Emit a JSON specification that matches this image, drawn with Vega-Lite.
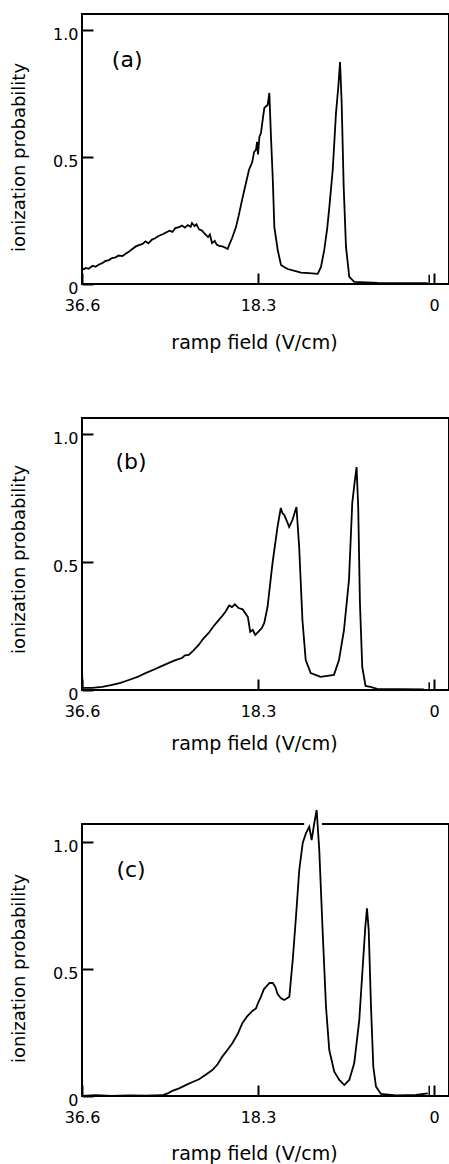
{
  "$schema": "https://vega.github.io/schema/vega-lite/v6.json",
  "background": "white",
  "padding": {"left": 9, "top": 13, "right": 0, "bottom": 0},
  "spacing": 134,
  "bounds": "flush",
  "datasets": {
    "a": [
      {"field": 36.6, "prob": 0.17}, {"field": 36.58, "prob": 0.06}, {"field": 36.4, "prob": 0.058}, {"field": 36.215, "prob": 0.063},
      {"field": 35.9, "prob": 0.06}, {"field": 35.5, "prob": 0.072}, {"field": 35.2, "prob": 0.068}, {"field": 34.83, "prob": 0.077},
      {"field": 34.5, "prob": 0.082}, {"field": 34.2, "prob": 0.09}, {"field": 33.8, "prob": 0.094}, {"field": 33.48, "prob": 0.102},
      {"field": 33.1, "prob": 0.105}, {"field": 32.8, "prob": 0.112}, {"field": 32.4, "prob": 0.11}, {"field": 32.025, "prob": 0.12},
      {"field": 31.7, "prob": 0.128}, {"field": 31.4, "prob": 0.137}, {"field": 31.0, "prob": 0.148}, {"field": 30.67, "prob": 0.153},
      {"field": 30.3, "prob": 0.158}, {"field": 30.0, "prob": 0.168}, {"field": 29.7, "prob": 0.16}, {"field": 29.32, "prob": 0.175},
      {"field": 29.0, "prob": 0.18}, {"field": 28.6, "prob": 0.19}, {"field": 28.2, "prob": 0.196}, {"field": 27.87, "prob": 0.203},
      {"field": 27.5, "prob": 0.21}, {"field": 27.2, "prob": 0.205}, {"field": 26.9, "prob": 0.22}, {"field": 26.51, "prob": 0.224},
      {"field": 26.2, "prob": 0.23}, {"field": 25.9, "prob": 0.222}, {"field": 25.6, "prob": 0.232}, {"field": 25.3, "prob": 0.225},
      {"field": 25.16, "prob": 0.24}, {"field": 24.9, "prob": 0.228}, {"field": 24.7, "prob": 0.235}, {"field": 24.43, "prob": 0.215},
      {"field": 24.1, "prob": 0.21}, {"field": 23.9, "prob": 0.2}, {"field": 23.71, "prob": 0.193}, {"field": 23.5, "prob": 0.185},
      {"field": 23.3, "prob": 0.195}, {"field": 23.08, "prob": 0.161}, {"field": 22.8, "prob": 0.17}, {"field": 22.6, "prob": 0.155},
      {"field": 22.35, "prob": 0.15}, {"field": 22.0, "prob": 0.148}, {"field": 21.63, "prob": 0.142}, {"field": 21.45, "prob": 0.138},
      {"field": 21.31, "prob": 0.153}, {"field": 21.0, "prob": 0.18}, {"field": 20.59, "prob": 0.224}, {"field": 20.3, "prob": 0.27},
      {"field": 19.96, "prob": 0.33}, {"field": 19.6, "prob": 0.39}, {"field": 19.24, "prob": 0.449}, {"field": 18.9, "prob": 0.48},
      {"field": 18.7, "prob": 0.52}, {"field": 18.51, "prob": 0.528}, {"field": 18.4, "prob": 0.56}, {"field": 18.3, "prob": 0.51},
      {"field": 18.15, "prob": 0.58}, {"field": 17.99, "prob": 0.594}, {"field": 17.8, "prob": 0.65}, {"field": 17.64, "prob": 0.693},
      {"field": 17.45, "prob": 0.7}, {"field": 17.29, "prob": 0.705}, {"field": 17.12, "prob": 0.752}, {"field": 16.95, "prob": 0.579},
      {"field": 16.77, "prob": 0.421}, {"field": 16.6, "prob": 0.224}, {"field": 16.25, "prob": 0.134}, {"field": 15.91, "prob": 0.075},
      {"field": 15.5, "prob": 0.065}, {"field": 15.21, "prob": 0.059}, {"field": 14.5, "prob": 0.052}, {"field": 13.83, "prob": 0.045},
      {"field": 13.0, "prob": 0.043}, {"field": 12.09, "prob": 0.04}, {"field": 11.75, "prob": 0.067}, {"field": 11.41, "prob": 0.134},
      {"field": 11.1, "prob": 0.22}, {"field": 10.89, "prob": 0.3}, {"field": 10.53, "prob": 0.449}, {"field": 10.19, "prob": 0.673},
      {"field": 9.95, "prob": 0.776}, {"field": 9.77, "prob": 0.874}, {"field": 9.6, "prob": 0.713}, {"field": 9.39, "prob": 0.382},
      {"field": 9.15, "prob": 0.146}, {"field": 8.81, "prob": 0.028}, {"field": 8.29, "prob": 0.008}, {"field": 5.85, "prob": 0.004},
      {"field": 2.39, "prob": 0.003}, {"field": 0.65, "prob": 0.003}
    ],
    "b": [
      {"field": 36.6, "prob": 0.09}, {"field": 36.55, "prob": 0.008}, {"field": 35.53, "prob": 0.008}, {"field": 34.5, "prob": 0.012},
      {"field": 33.46, "prob": 0.02}, {"field": 32.6, "prob": 0.028}, {"field": 31.73, "prob": 0.039}, {"field": 30.9, "prob": 0.05},
      {"field": 30.0, "prob": 0.066}, {"field": 29.1, "prob": 0.08}, {"field": 28.27, "prob": 0.094}, {"field": 27.5, "prob": 0.107},
      {"field": 26.88, "prob": 0.117}, {"field": 26.2, "prob": 0.125}, {"field": 25.9, "prob": 0.135}, {"field": 25.5, "prob": 0.137},
      {"field": 25.0, "prob": 0.155}, {"field": 24.47, "prob": 0.176}, {"field": 24.0, "prob": 0.2}, {"field": 23.43, "prob": 0.223},
      {"field": 22.9, "prob": 0.25}, {"field": 22.39, "prob": 0.273}, {"field": 22.0, "prob": 0.29}, {"field": 21.7, "prob": 0.305},
      {"field": 21.3, "prob": 0.33}, {"field": 21.01, "prob": 0.324}, {"field": 20.7, "prob": 0.335}, {"field": 20.32, "prob": 0.32},
      {"field": 19.9, "prob": 0.315}, {"field": 19.62, "prob": 0.3}, {"field": 19.35, "prob": 0.285}, {"field": 19.11, "prob": 0.227},
      {"field": 18.85, "prob": 0.235}, {"field": 18.59, "prob": 0.215}, {"field": 18.2, "prob": 0.23}, {"field": 17.9, "prob": 0.242},
      {"field": 17.65, "prob": 0.262}, {"field": 17.31, "prob": 0.324}, {"field": 16.79, "prob": 0.496}, {"field": 16.27, "prob": 0.637},
      {"field": 15.93, "prob": 0.711}, {"field": 15.75, "prob": 0.69}, {"field": 15.58, "prob": 0.684}, {"field": 15.3, "prob": 0.66},
      {"field": 15.06, "prob": 0.637}, {"field": 14.72, "prob": 0.664}, {"field": 14.3, "prob": 0.715}, {"field": 14.02, "prob": 0.559},
      {"field": 13.68, "prob": 0.273}, {"field": 13.34, "prob": 0.117}, {"field": 12.82, "prob": 0.066}, {"field": 11.79, "prob": 0.051},
      {"field": 10.4, "prob": 0.059}, {"field": 9.88, "prob": 0.117}, {"field": 9.36, "prob": 0.234}, {"field": 8.84, "prob": 0.43},
      {"field": 8.5, "prob": 0.73}, {"field": 8.26, "prob": 0.809}, {"field": 8.05, "prob": 0.871}, {"field": 7.88, "prob": 0.715},
      {"field": 7.7, "prob": 0.34}, {"field": 7.46, "prob": 0.09}, {"field": 7.12, "prob": 0.016}, {"field": 6.6, "prob": 0.012},
      {"field": 5.91, "prob": 0.004}, {"field": 1.06, "prob": 0.002}
    ],
    "c": [
      {"field": 36.6, "prob": 0.0}, {"field": 35.18, "prob": 0.003}, {"field": 33.5, "prob": 0.0}, {"field": 31.71, "prob": 0.002},
      {"field": 30.0, "prob": 0.001}, {"field": 28.25, "prob": 0.003}, {"field": 27.7, "prob": 0.01}, {"field": 27.21, "prob": 0.02},
      {"field": 26.5, "prob": 0.03}, {"field": 25.82, "prob": 0.043}, {"field": 25.1, "prob": 0.055}, {"field": 24.43, "prob": 0.066},
      {"field": 23.7, "prob": 0.085}, {"field": 23.05, "prob": 0.102}, {"field": 22.5, "prob": 0.125}, {"field": 22.01, "prob": 0.155},
      {"field": 21.5, "prob": 0.18}, {"field": 20.97, "prob": 0.208}, {"field": 20.4, "prob": 0.245}, {"field": 19.93, "prob": 0.287},
      {"field": 19.4, "prob": 0.315}, {"field": 18.89, "prob": 0.335}, {"field": 18.51, "prob": 0.345}, {"field": 18.25, "prob": 0.37},
      {"field": 17.99, "prob": 0.391}, {"field": 17.7, "prob": 0.42}, {"field": 17.47, "prob": 0.43}, {"field": 17.1, "prob": 0.445},
      {"field": 16.77, "prob": 0.445}, {"field": 16.5, "prob": 0.43}, {"field": 16.25, "prob": 0.4}, {"field": 15.9, "prob": 0.385},
      {"field": 15.56, "prob": 0.378}, {"field": 15.04, "prob": 0.391}, {"field": 14.69, "prob": 0.535}, {"field": 14.35, "prob": 0.706},
      {"field": 14.01, "prob": 0.89}, {"field": 13.65, "prob": 0.996}, {"field": 13.31, "prob": 1.035}, {"field": 12.97, "prob": 1.06},
      {"field": 12.72, "prob": 1.008}, {"field": 12.45, "prob": 1.074}, {"field": 12.2, "prob": 1.126}, {"field": 11.93, "prob": 0.969},
      {"field": 11.57, "prob": 0.642}, {"field": 11.23, "prob": 0.352}, {"field": 10.89, "prob": 0.181}, {"field": 10.37, "prob": 0.096},
      {"field": 9.85, "prob": 0.063}, {"field": 9.33, "prob": 0.043}, {"field": 8.81, "prob": 0.063}, {"field": 8.29, "prob": 0.13},
      {"field": 7.77, "prob": 0.299}, {"field": 7.41, "prob": 0.509}, {"field": 7.14, "prob": 0.667}, {"field": 6.97, "prob": 0.739},
      {"field": 6.79, "prob": 0.654}, {"field": 6.55, "prob": 0.352}, {"field": 6.31, "prob": 0.115}, {"field": 6.03, "prob": 0.037},
      {"field": 5.51, "prob": 0.008}, {"field": 3.95, "prob": 0.002}, {"field": 1.87, "prob": 0.004}, {"field": 0.65, "prob": 0.01}
    ]
  },
  "vconcat": [
    {
      "width": 367, "height": 270,
      "layer": [
        {
          "data": {"name": "a"},
          "mark": {"type": "line", "color": "black", "strokeWidth": 1.8},
          "encoding": {
            "x": {"field": "field", "type": "quantitative", "scale": {"domain": [-1.56, 36.6], "reverse": true, "nice": false, "zero": false},
                  "axis": {"values": [36.6, 18.3, 0], "labelExpr": "datum.value == 0 ? '0' : format(datum.value, '.1f')", "title": "ramp field (V/cm)", "titleX": 172, "titleY": 58}},
            "y": {"field": "prob", "type": "quantitative", "scale": {"domain": [0, 1.063], "nice": false},
                  "axis": {"values": [0, 0.5, 1], "labelExpr": "datum.value == 0 ? '0' : format(datum.value, '.1f')", "title": "ionization probability", "titleX": -63, "titleY": 143}}
          }
        },
        {
          "data": {"values": [{}]},
          "mark": {"type": "text", "font": "DejaVu Sans", "fontSize": 22, "color": "black"},
          "encoding": {"x": {"datum": 31.9}, "y": {"datum": 0.882}, "text": {"value": "(a)"}}
        },
        {
          "data": {"values": [{}]},
          "mark": {"type": "rule", "color": "black", "strokeWidth": 1.5},
          "encoding": {"x": {"datum": 0.5}, "y": {"datum": 0}, "y2": {"datum": 0.036}}
        }
      ]
    },
    {
      "width": 367, "height": 272,
      "layer": [
        {
          "data": {"name": "b"},
          "mark": {"type": "line", "color": "black", "strokeWidth": 1.8},
          "encoding": {
            "x": {"field": "field", "type": "quantitative", "scale": {"domain": [-1.56, 36.6], "reverse": true, "nice": false, "zero": false},
                  "axis": {"values": [36.6, 18.3, 0], "labelExpr": "datum.value == 0 ? '0' : format(datum.value, '.1f')", "title": "ramp field (V/cm)", "titleX": 172, "titleY": 53}},
            "y": {"field": "prob", "type": "quantitative", "scale": {"domain": [0, 1.0625], "nice": false},
                  "axis": {"values": [0, 0.5, 1], "labelExpr": "datum.value == 0 ? '0' : format(datum.value, '.1f')", "title": "ionization probability", "titleX": -63, "titleY": 141}}
          }
        },
        {
          "data": {"values": [{}]},
          "mark": {"type": "text", "font": "DejaVu Sans", "fontSize": 22, "color": "black"},
          "encoding": {"x": {"datum": 31.5}, "y": {"datum": 0.89}, "text": {"value": "(b)"}}
        },
        {
          "data": {"values": [{}]},
          "mark": {"type": "rule", "color": "black", "strokeWidth": 1.5},
          "encoding": {"x": {"datum": 0.5}, "y": {"datum": 0}, "y2": {"datum": 0.03}}
        }
      ]
    },
    {
      "width": 367, "height": 272,
      "layer": [
        {
          "data": {"values": [{}]},
          "mark": {"type": "rule", "color": "white", "strokeWidth": 5},
          "encoding": {"x": {"datum": 13.5}, "x2": {"datum": 11.65}, "y": {"datum": 1.071}}
        },
        {
          "data": {"name": "c"},
          "mark": {"type": "line", "color": "black", "strokeWidth": 1.8},
          "encoding": {
            "x": {"field": "field", "type": "quantitative", "scale": {"domain": [-1.56, 36.6], "reverse": true, "nice": false, "zero": false},
                  "axis": {"values": [36.6, 18.3, 0], "labelExpr": "datum.value == 0 ? '0' : format(datum.value, '.1f')", "title": "ramp field (V/cm)", "titleX": 172, "titleY": 57}},
            "y": {"field": "prob", "type": "quantitative", "scale": {"domain": [0, 1.071], "nice": false},
                  "axis": {"values": [0, 0.5, 1], "labelExpr": "datum.value == 0 ? '0' : format(datum.value, '.1f')", "title": "ionization probability", "titleX": -63, "titleY": 144}}
          }
        },
        {
          "data": {"values": [{}]},
          "mark": {"type": "text", "font": "DejaVu Sans", "fontSize": 22, "color": "black"},
          "encoding": {"x": {"datum": 31.5}, "y": {"datum": 0.89}, "text": {"value": "(c)"}}
        },
        {
          "data": {"values": [{}]},
          "mark": {"type": "rule", "color": "black", "strokeWidth": 1.5},
          "encoding": {"x": {"datum": 0.5}, "y": {"datum": 0}, "y2": {"datum": 0.04}}
        }
      ]
    }
  ],
  "config": {
    "view": {"stroke": "black", "strokeWidth": 2},
    "axis": {
      "domain": false, "grid": false,
      "tickColor": "black", "tickWidth": 2, "tickSize": -11,
      "labelFont": "DejaVu Sans", "labelFontSize": 16, "labelColor": "black", "labelFlush": false, "labelOverlap": false,
      "titleFont": "DejaVu Sans", "titleFontSize": 19, "titleFontWeight": "normal", "titleColor": "black"
    },
    "axisX": {"labelPadding": 24, "titleBaseline": "middle", "titleAlign": "center"},
    "axisY": {"labelPadding": 15, "labelOffset": 4, "titleBaseline": "middle", "titleAngle": 270, "titleAlign": "center", "titleFontSize": 18}
  }
}
